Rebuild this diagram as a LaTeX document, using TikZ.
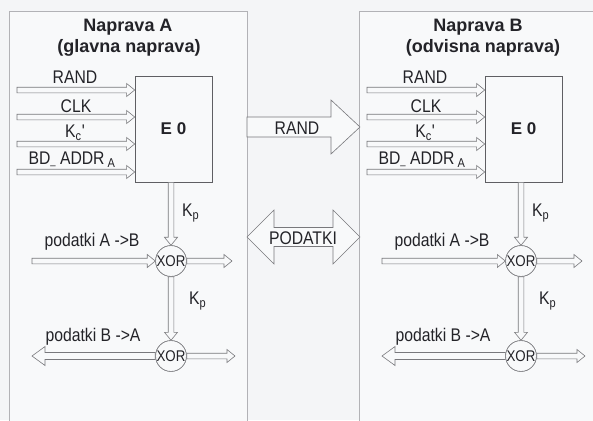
\documentclass[tikz,border=0pt]{standalone}
\usepackage{fontspec}
\setmainfont{Liberation Sans}
\newfontfamily\narrowfont{Liberation Sans}[FakeStretch=0.86]
\usetikzlibrary{calc}

\definecolor{pagebg}{RGB}{244,245,247}
\definecolor{panelbg}{RGB}{248,249,250}
\definecolor{panelline}{RGB}{178,178,182}
\definecolor{arrowline}{RGB}{120,120,124}
\definecolor{ink}{RGB}{35,35,40}
\definecolor{boxline}{RGB}{95,95,99}

% direction and length from one point to another
\newcommand\getdir[2]{%
  \path let \p1=(#1), \p2=(#2) in
    \pgfextra{\pgfmathsetmacro\tmpang{atan2(\y2-\y1,\x2-\x1)}%
              \pgfmathsetmacro\tmplen{veclen(\x2-\x1,\y2-\y1)}%
              \xdef\arrang{\tmpang}\xdef\arrlen{\tmplen}};}

% hollow arrow: from, to, shaft half width, head half width, head length
\newcommand\onehead[5]{%
  \getdir{#1}{#2}%
  \begin{scope}[shift={(#1)},rotate=\arrang]
    \draw[hollowarrow] (0pt,#3) -- ({\arrlen pt-#5},#3) -- ({\arrlen pt-#5},#4)
      -- (\arrlen pt,0pt) -- ({\arrlen pt-#5},-#4) -- ({\arrlen pt-#5},-#3)
      -- (0pt,-#3) -- cycle;
  \end{scope}}

% hollow arrow with a head at both ends
\newcommand\twoheads[5]{%
  \getdir{#1}{#2}%
  \begin{scope}[shift={(#1)},rotate=\arrang]
    \draw[hollowarrow] (0pt,0pt) -- (#5,#4) -- (#5,#3) -- ({\arrlen pt-#5},#3)
      -- ({\arrlen pt-#5},#4) -- (\arrlen pt,0pt) -- ({\arrlen pt-#5},-#4)
      -- ({\arrlen pt-#5},-#3) -- (#5,-#3) -- (#5,-#4) -- cycle;
  \end{scope}}

\newcommand\thin[2]{\onehead{#1}{#2}{2.8pt}{6.5pt}{8pt}}
\newcommand\lowbar{{\fontsize{11}{11}\selectfont\_}}

\tikzset{
  hollowarrow/.style={draw=arrowline, fill=panelbg, line width=0.6pt, line join=miter},
  panel/.style={draw=panelline, fill=panelbg, line width=0.7pt},
  title/.style={font=\fontsize{18}{20}\selectfont\bfseries, text=ink, inner sep=0pt},
  lbl/.style={font=\narrowfont\fontsize{18.3}{20}\selectfont, text=ink, inner sep=0pt},
  eobox/.style={draw=boxline, fill=panelbg, line width=0.7pt, minimum width=77pt,
    minimum height=106pt, inner sep=0pt, font=\fontsize{17}{19}\selectfont\bfseries, text=ink},
  xorgate/.style={circle, draw=arrowline, fill=panelbg, line width=0.6pt, minimum size=30pt,
    inner sep=0pt, font=\narrowfont\fontsize{15.5}{16}\selectfont, text=ink},
}

\begin{document}
\begin{tikzpicture}[x=1pt, y=-1pt]
\useasboundingbox (0,0) rectangle (593,420);
\fill[pagebg] (0,0) rectangle (593,420);

% two device panels
\draw[panel] (9,11) rectangle (247,430);
\draw[panel] (359,11) rectangle (610,430);

% device A
\node[title] (tA1) at (128,27) {Naprava A};
\node[title] (tA2) at (129,48) {(glavna naprava)};
\node[eobox] (eA) at (173.5,129) {E 0};
\foreach \y/\n in {90/1,117/2,144/3,172/4}{
  \coordinate (inA\n) at (17,\y);
  \coordinate (enA\n) at (eA.west |- 0,\y);
}
\thin{inA1}{enA1}\thin{inA2}{enA2}\thin{inA3}{enA3}\thin{inA4}{enA4}
\node[lbl] (rA) at (75,77) {RAND};
\node[lbl] (cA) at (76,106) {CLK};
\node[lbl] (kA) at (75,133) {K\textsubscript{c}'};
\node[lbl] (bA) at (72,160) {BD\lowbar\ ADDR\,\textsubscript{A}};

\node[xorgate] (x1A) at (171,261) {XOR};
\node[xorgate] (x2A) at (171,356) {XOR};
\coordinate (eAs) at (x1A.north |- eA.south);
\thin{eAs}{x1A.north}
\thin{x1A.south}{x2A.north}
\coordinate (dinA) at (32,261);
\coordinate (doutA) at (232,261);
\thin{dinA}{x1A.west}
\thin{x1A.east}{doutA}
\coordinate (rxA) at (32,356);
\coordinate (rxoA) at (235,356);
\onehead{x2A.west}{rxA}{3.5pt}{9.5pt}{13pt}
\thin{x2A.east}{rxoA}
\node[lbl, anchor=west] (kp1A) at (182,213) {K\textsubscript{p}};
\node[lbl, anchor=west] (kp2A) at (189,301) {K\textsubscript{p}};
\node[lbl] (pabA) at (92,242) {podatki A ->B};
\node[lbl] (pbaA) at (93,337) {podatki B ->A};

% device B
\node[title] (tB1) at (478,27) {Naprava B};
\node[title] (tB2) at (483,48) {(odvisna naprava)};
\node[eobox] (eB) at (523.5,129) {E 0};
\foreach \y/\n in {90/1,117/2,144/3,172/4}{
  \coordinate (inB\n) at (367,\y);
  \coordinate (enB\n) at (eB.west |- 0,\y);
}
\thin{inB1}{enB1}\thin{inB2}{enB2}\thin{inB3}{enB3}\thin{inB4}{enB4}
\node[lbl] (rB) at (425,77) {RAND};
\node[lbl] (cB) at (426,106) {CLK};
\node[lbl] (kB) at (425,133) {K\textsubscript{c}'};
\node[lbl] (bB) at (422,160) {BD\lowbar\ ADDR\,\textsubscript{A}};

\node[xorgate] (x1B) at (521,261) {XOR};
\node[xorgate] (x2B) at (521,356) {XOR};
\coordinate (eBs) at (x1B.north |- eB.south);
\thin{eBs}{x1B.north}
\thin{x1B.south}{x2B.north}
\coordinate (dinB) at (382,261);
\coordinate (doutB) at (582,261);
\thin{dinB}{x1B.west}
\thin{x1B.east}{doutB}
\coordinate (rxB) at (382,356);
\coordinate (rxoB) at (585,356);
\onehead{x2B.west}{rxB}{3.5pt}{9.5pt}{13pt}
\thin{x2B.east}{rxoB}
\node[lbl, anchor=west] (kp1B) at (532,213) {K\textsubscript{p}};
\node[lbl, anchor=west] (kp2B) at (539,301) {K\textsubscript{p}};
\node[lbl] (pabB) at (442,242) {podatki A ->B};
\node[lbl] (pbaB) at (443,337) {podatki B ->A};

% gates drawn again above the arrow tails
\foreach \g in {x1A,x2A,x1B,x2B}{
  \node[xorgate] at (\g) {XOR};
}

% links between the devices
\coordinate (randL) at (247,127);
\coordinate (randR) at (360,127);
\onehead{randL}{randR}{10pt}{27pt}{29pt}
\node[lbl] (randM) at (297,128) {RAND};
\coordinate (datL) at (247,237);
\coordinate (datR) at (360,237);
\twoheads{datL}{datR}{9.5pt}{27pt}{27pt}
\node[lbl] (datM) at (303,238) {PODATKI};
\end{tikzpicture}
\end{document}
